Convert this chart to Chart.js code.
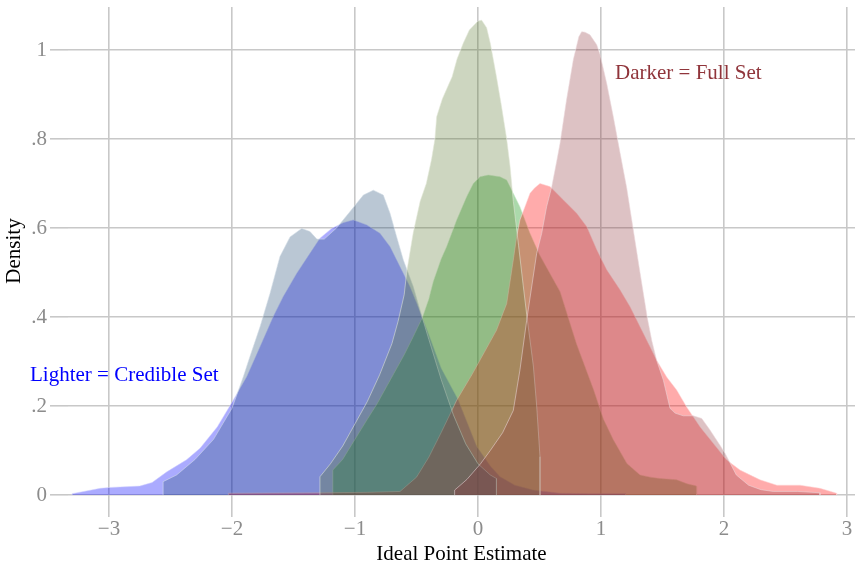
<!DOCTYPE html>
<html>
<head>
<meta charset="utf-8">
<script src="https://cdn.jsdelivr.net/npm/chart.js@4.4.1/dist/chart.umd.min.js"></script>
<style>
html,body{margin:0;padding:0;background:#ffffff;}
#wrap{width:855px;height:567px;position:relative;}
</style>
</head>
<body>
<div id="wrap"><canvas id="c" width="855" height="567"></canvas></div>
<script>
// ---- tick values / labels ----
const xTickValues = [-3, -2, -1, 0, 1, 2, 3];
const yTickValues = [0, 0.2, 0.4, 0.6, 0.8, 1];
const yTickLabels = ['0', '.2', '.4', '.6', '.8', '1'];
const xAxisTitle = 'Ideal Point Estimate';
const yAxisTitle = 'Density';

// ---- Full set (darker) densities ----
const blueFullX = [-2.56, -2.56, -2.45, -2.3, -2.15, -2.0, -1.908, -1.854, -1.772, -1.691, -1.61, -1.528, -1.433, -1.366, -1.31, -1.25, -1.15, -1.04, -0.932, -0.851, -0.77, -0.715, -0.661, -0.607, -0.526, -0.472, -0.4, -0.3, -0.2, -0.1, 0.0, 0.1, 0.15, 0.15];
const blueFullY = [0, 0.03, 0.045, 0.08, 0.125, 0.195, 0.266, 0.311, 0.378, 0.453, 0.536, 0.58, 0.599, 0.592, 0.575, 0.575, 0.6, 0.637, 0.674, 0.685, 0.674, 0.633, 0.58, 0.528, 0.468, 0.416, 0.35, 0.26, 0.18, 0.115, 0.07, 0.045, 0.037, 0];

const greenFullX = [-1.285, -1.285, -1.2, -1.1, -1.0, -0.9, -0.8, -0.7, -0.65, -0.6, -0.58, -0.526, -0.47, -0.42, -0.377, -0.35, -0.336, -0.29, -0.25, -0.21, -0.17, -0.12, -0.07, 0.0, 0.03, 0.07, 0.1, 0.15, 0.19, 0.233, 0.26, 0.287, 0.33, 0.368, 0.396, 0.45, 0.477, 0.504, 0.504];
const greenFullY = [0, 0.041, 0.07, 0.11, 0.16, 0.21, 0.27, 0.34, 0.39, 0.45, 0.5, 0.59, 0.66, 0.70, 0.755, 0.80, 0.85, 0.89, 0.915, 0.94, 0.98, 1.015, 1.045, 1.065, 1.067, 1.05, 1.015, 0.94, 0.875, 0.80, 0.74, 0.66, 0.56, 0.47, 0.405, 0.29, 0.2, 0.086, 0];

const redFullX = [-0.19, -0.19, -0.09, 0.02, 0.1, 0.2, 0.287, 0.341, 0.396, 0.477, 0.518, 0.558, 0.6, 0.64, 0.667, 0.72, 0.775, 0.82, 0.843, 0.87, 0.91, 0.965, 0.992, 1.046, 1.1, 1.154, 1.209, 1.26, 1.317, 1.375, 1.412, 1.452, 1.507, 1.561, 1.602, 1.669, 1.75, 1.819, 1.886, 1.967, 2.008, 2.1, 2.2, 2.3, 2.4, 2.6, 2.78, 2.78];
const redFullY = [0, 0.011, 0.035, 0.07, 0.1, 0.14, 0.19, 0.281, 0.393, 0.543, 0.588, 0.648, 0.693, 0.75, 0.79, 0.888, 0.978, 1.03, 1.041, 1.04, 1.034, 1.012, 0.99, 0.925, 0.85, 0.77, 0.69, 0.6, 0.5, 0.40, 0.348, 0.303, 0.258, 0.195, 0.184, 0.178, 0.178, 0.172, 0.146, 0.112, 0.094, 0.045, 0.022, 0.012, 0.008, 0.008, 0.005, 0];

// ---- Credible set (lighter) densities ----
const blueCredX = [-3.30, -3.30, -3.07, -2.99, -2.75, -2.65, -2.53, -2.37, -2.26, -2.12, -1.99, -1.88, -1.772, -1.664, -1.583, -1.474, -1.366, -1.285, -1.19, -1.095, -1.014, -0.905, -0.797, -0.715, -0.634, -0.553, -0.498, -0.4, -0.3, -0.16, -0.01, 0.1, 0.179, 0.3, 0.447, 0.667, 0.9, 1.2, 1.2];
const blueCredY = [0, 0.003, 0.015, 0.017, 0.02, 0.028, 0.052, 0.079, 0.105, 0.153, 0.213, 0.266, 0.333, 0.401, 0.446, 0.498, 0.543, 0.577, 0.599, 0.612, 0.618, 0.607, 0.588, 0.558, 0.513, 0.468, 0.431, 0.36, 0.285, 0.213, 0.109, 0.065, 0.041, 0.022, 0.011, 0.004, 0.003, 0.003, 0];

const greenCredX = [-1.18, -1.18, -1.1, -1.0, -0.9, -0.82, -0.7, -0.6, -0.526, -0.45, -0.4, -0.363, -0.3, -0.255, -0.173, -0.092, -0.038, 0.016, 0.084, 0.179, 0.233, 0.287, 0.341, 0.42, 0.5, 0.58, 0.667, 0.8, 0.94, 1.02, 1.1, 1.21, 1.317, 1.4, 1.48, 1.615, 1.7, 1.777, 1.777];
const greenCredY = [0, 0.056, 0.08, 0.125, 0.17, 0.205, 0.265, 0.315, 0.356, 0.40, 0.44, 0.48, 0.53, 0.558, 0.618, 0.67, 0.70, 0.715, 0.719, 0.715, 0.708, 0.678, 0.648, 0.59, 0.54, 0.50, 0.457, 0.34, 0.236, 0.17, 0.124, 0.071, 0.045, 0.04, 0.037, 0.034, 0.025, 0.02, 0];

const redCredX = [-2.03, -2.03, -1.3, -0.9, -0.634, -0.5, -0.4, -0.3, -0.173, -0.05, 0.05, 0.15, 0.233, 0.287, 0.314, 0.341, 0.382, 0.423, 0.46, 0.504, 0.585, 0.694, 0.802, 0.884, 0.965, 1.046, 1.154, 1.236, 1.317, 1.398, 1.452, 1.534, 1.615, 1.696, 1.805, 1.913, 2.02, 2.13, 2.293, 2.43, 2.618, 2.78, 2.916, 2.916];
const redCredY = [0, 0.004, 0.005, 0.006, 0.008, 0.04, 0.085, 0.14, 0.213, 0.27, 0.32, 0.37, 0.43, 0.528, 0.58, 0.618, 0.648, 0.678, 0.69, 0.70, 0.693, 0.663, 0.633, 0.603, 0.551, 0.506, 0.461, 0.423, 0.378, 0.333, 0.303, 0.265, 0.236, 0.198, 0.153, 0.116, 0.079, 0.056, 0.034, 0.022, 0.022, 0.015, 0.004, 0];

// ---- annotations (data units) ----
const noteTexts = ['Darker = Full Set', 'Lighter = Credible Set'];
const noteX = [1.114, -3.642];
const noteY = [0.935, 0.256];
const noteColors = ['rgb(144,53,59)', 'rgb(0,0,255)'];

function pts(xs, ys) { return xs.map((x, i) => ({ x: x, y: ys[i] })); }

const FONT = '"Liberation Serif", "Times New Roman", serif';
const FSIZE = 21;

function area(label, xs, ys, fillColor, lineColor) {
  return {
    label: label,
    data: pts(xs, ys),
    fill: 'origin',
    backgroundColor: fillColor,
    borderColor: lineColor,
    borderWidth: 1,
    pointRadius: 0,
    pointHoverRadius: 0,
    tension: 0
  };
}

function noPad(s) { s.paddingTop = 0; s.paddingBottom = 0; s.paddingLeft = 0; s.paddingRight = 0; }

const notesPlugin = {
  id: 'notes',
  afterDatasetsDraw(chart) {
    const ctx = chart.ctx;
    const xs = chart.scales.x, ys = chart.scales.y;
    ctx.save();
    ctx.font = FSIZE + 'px ' + FONT;
    ctx.textAlign = 'left';
    ctx.textBaseline = 'alphabetic';
    for (let i = 0; i < noteTexts.length; i++) {
      ctx.fillStyle = noteColors[i];
      ctx.fillText(noteTexts[i], xs.getPixelForValue(noteX[i]), ys.getPixelForValue(noteY[i]));
    }
    ctx.restore();
  }
};

new Chart(document.getElementById('c'), {
  type: 'line',
  data: {
    datasets: [
      area('Full set 3', redFullX, redFullY, 'rgba(144,53,59,0.3)', 'rgba(235,215,218,0.55)'),
      area('Full set 2', greenFullX, greenFullY, 'rgba(88,118,48,0.3)', 'rgba(225,232,215,0.55)'),
      area('Full set 1', blueFullX, blueFullY, 'rgba(26,71,111,0.3)', 'rgba(210,220,230,0.55)'),
      area('Credible set 3', redCredX, redCredY, 'rgba(255,0,0,0.33)', 'rgba(255,210,210,0.5)'),
      area('Credible set 2', greenCredX, greenCredY, 'rgba(0,140,0,0.33)', 'rgba(210,240,210,0.5)'),
      area('Credible set 1', blueCredX, blueCredY, 'rgba(0,0,255,0.33)', 'rgba(210,210,255,0.5)')
    ]
  },
  options: {
    responsive: false,
    animation: false,
    devicePixelRatio: 1,
    layout: { padding: { top: 7, left: 0, right: 0, bottom: 0 } },
    plugins: { legend: { display: false }, tooltip: { enabled: false } },
    scales: {
      x: {
        type: 'linear',
        min: -3.3333,
        max: 3.065,
        afterBuildTicks: (s) => { s.ticks = xTickValues.map(v => ({ value: v })); },
        afterFit: (s) => { s.height = 72; noPad(s); },
        border: { display: false },
        grid: { color: 'rgb(200,200,200)', lineWidth: 1.6, tickLength: 22, drawTicks: true },
        ticks: {
          autoSkip: false, maxRotation: 0, padding: 0,
          color: 'rgb(140,140,140)', font: { family: FONT, size: FSIZE },
          callback: (v) => (v < 0 ? '\u2212' + Math.abs(v) : String(v))
        },
        title: { display: true, text: xAxisTitle, color: '#000', font: { family: FONT, size: FSIZE }, padding: { top: 0, bottom: 0 } }
      },
      y: {
        type: 'linear',
        min: 0,
        max: 1.0966,
        afterBuildTicks: (s) => { s.ticks = yTickValues.map(v => ({ value: v })); },
        afterFit: (s) => { s.width = 68; noPad(s); },
        border: { display: false },
        grid: { color: 'rgb(200,200,200)', lineWidth: 1.6, tickLength: 18, drawTicks: true },
        ticks: {
          autoSkip: false, padding: 3,
          color: 'rgb(140,140,140)', font: { family: FONT, size: FSIZE },
          callback: (v) => { const i = yTickValues.findIndex(t => Math.abs(t - v) < 1e-9); return i >= 0 ? yTickLabels[i] : ''; }
        },
        title: { display: true, text: yAxisTitle, color: '#000', font: { family: FONT, size: FSIZE }, padding: { top: 2, bottom: 0 } }
      }
    }
  },
  plugins: [notesPlugin]
});
</script>
</body>
</html>
